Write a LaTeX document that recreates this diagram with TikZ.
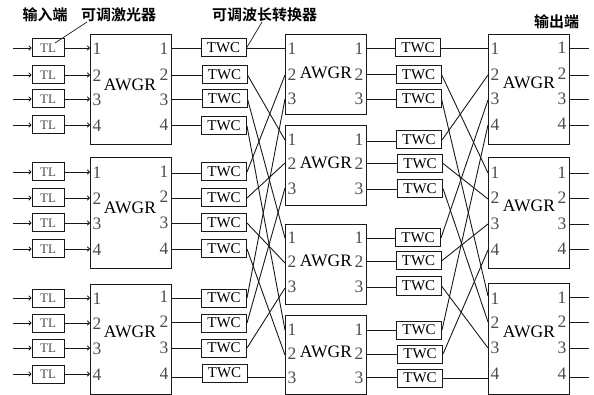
\documentclass[tikz,border=0pt]{standalone}
\usepackage{fontspec}
\setmainfont{Liberation Serif}
\newfontfamily\cjkbold{Noto Sans CJK SC Bold}
\usetikzlibrary{arrows.meta}
\definecolor{ink}{gray}{0.1}
\definecolor{digit}{gray}{0.3}
\tikzset{
  x=1pt,y=-1pt,
  wire/.style={draw=ink,line width=0.9pt},
  arr/.style={wire,-{To[length=3pt,width=5pt]}},
  leader/.style={draw=ink,line width=0.7pt},
  awgrbox/.style={draw=ink,line width=1pt,minimum width=81pt,inner sep=0pt},
  tlbox/.style={draw=ink,line width=1pt,minimum width=32pt,minimum height=18pt,inner sep=0pt,text=digit,font=\fontsize{13}{13}\selectfont},
  twcbox/.style={draw=ink,line width=1pt,minimum width=45pt,minimum height=18pt,inner sep=0pt,text=black,font=\fontsize{15}{15}\selectfont},
  awgrtext/.style={inner sep=0pt,font=\fontsize{17.5}{17.5}\selectfont,text=black},
  portnum/.style={inner sep=0pt,font=\fontsize{17.5}{17.5}\selectfont,text=digit},
  captext/.style={inner sep=0pt,font=\cjkbold\fontsize{15}{15}\selectfont},
}
\begin{document}
\begin{tikzpicture}
\useasboundingbox (0,0) rectangle (594,395);
% AWGR boxes
\node[awgrbox,minimum height=110pt] (A1) at (130.5,90) {};
\node[awgrbox,minimum height=111pt] (A2) at (130.5,213.5) {};
\node[awgrbox,minimum height=110pt] (A3) at (130.5,339) {};
\node[awgrbox,minimum height=80pt] (M1) at (325.5,75) {};
\node[awgrbox,minimum height=80pt] (M2) at (325.5,165.5) {};
\node[awgrbox,minimum height=79pt] (M3) at (325.5,264.5) {};
\node[awgrbox,minimum height=79pt] (M4) at (325.5,354.5) {};
\node[awgrbox,minimum height=110pt] (R1) at (529,90) {};
\node[awgrbox,minimum height=111pt] (R2) at (529,213.5) {};
\node[awgrbox,minimum height=111pt] (R3) at (529,338.5) {};
% AWGR captions
\foreach \n/\x/\y in {a/130/85,b/130/208,c/130/332,d/326/73,e/326/163,f/326/261,g/326/352,h/529/83,i/529/206,j/529/332}
  \node[awgrtext] (w\n) at (\x,\y) {AWGR};
% left column: TL, inputs, first AWGR ports
\foreach \n/\y/\d/\oy in {1/48/1/48,2/75/2/75,3/99/3/99,4/125/4/125,5/172/1/173,6/198/2/198,7/223/3/223,8/249/4/249,9/298/1/298,10/323/2/322,11/348/3/348,12/374/4/377}{
  \node[tlbox] (tl\n) at (48,\y) {TL};
  \coordinate (in\n) at (13,\y);
  \coordinate (ai\n) at (90,\y);
  \coordinate (ao\n) at (171,\oy);
  \node[portnum] (an\n) at (97,\y+1) {\d};
  \draw[arr] (in\n) -- (tl\n.west);
  \draw[arr] (tl\n.east) -- (ai\n);
}
\foreach \n/\y/\d in {1/49/1,2/75/2,3/100/3,4/125/4,5/172/1,6/197/2,7/223/3,8/249/4,9/297/1,10/322/2,11/348/3,12/374/4}
  \node[portnum] (bn\n) at (164,\y) {\d};
% first TWC column
\foreach \n/\x/\y in {1/223.5/48,2/224.5/75,3/224.5/99,4/224/126,5/224/172,6/224/198,7/224/223,8/224/249,9/224/298,10/224/323,11/224/348,12/224.5/373}{
  \node[twcbox] (tw\n) at (\x,\y) {TWC};
  \draw[wire] (ao\n) -- (ao\n-|tw\n.west);
}
% middle ports
\foreach \n/\iy/\oy/\d in {1/48/48/1,2/75/74/2,3/99/99/3,4/140/141/1,5/163/163/2,6/188/189/3,7/238/238/1,8/263/261/2,9/288/287/3,10/330/330/1,11/355/354/2,12/377/377/3}{
  \coordinate (mi\n) at (285,\iy);
  \coordinate (mo\n) at (366,\oy);
}
\foreach \n/\y/\d in {1/49/1,2/75/2,3/99/3,4/140/1,5/164/2,6/189/3,7/238/1,8/262/2,9/287/3,10/330/1,11/354/2,12/378/3}{
  \node[portnum] (ml\n) at (292,\y) {\d};
  \node[portnum] (mr\n) at (359,\y) {\d};
}
% first crossing stage
\foreach \a/\b in {1/1,2/4,3/7,4/10,5/2,6/5,7/8,8/11,9/3,10/6,11/9}
  \draw[wire] (tw\a.east) -- (mi\b);
\draw[wire] (tw12.east|-mi12) -- (mi12);
% second TWC column
\foreach \n/\x/\y in {1/418/48,2/418.5/74.5,3/418.5/99,4/419/140,5/420/163.5,6/420/188.5,7/418/238,8/418.5/261,9/418.5/286,10/419/330,11/420/354,12/420/378}{
  \node[twcbox] (tx\n) at (\x,\y) {TWC};
  \draw[wire] (mo\n) -- (mo\n-|tx\n.west);
}
% right ports
\foreach \n/\iy/\oy/\d in {1/48/48/1,2/75/75/2,3/100/99/3,4/125/125/4,5/173/173/1,6/199/198/2,7/224/224/3,8/250/249/4,9/296/297/1,10/322/322/2,11/348/348/3,12/378/377/4}{
  \coordinate (ri\n) at (488,\iy);
  \coordinate (ro\n) at (570,\oy);
  \coordinate (ou\n) at (589,\oy);
  \draw[wire] (ro\n) -- (ou\n);
}
\foreach \n/\y/\d in {1/49/1,2/75/2,3/99/3,4/125/4,5/173/1,6/198/2,7/224/3,8/250/4,9/299/1,10/323/2,11/348/3,12/374/4}{
  \node[portnum] (rl\n) at (495,\y) {\d};
}
\foreach \n/\y/\d in {1/48/1,2/74/2,3/99/3,4/124/4,5/173/1,6/198/2,7/224/3,8/249/4,9/298/1,10/322/2,11/348/3,12/374/4}{
  \node[portnum] (rr\n) at (562,\y) {\d};
}
% second crossing stage
\foreach \a/\b in {1/1,2/5,3/9,4/2,5/6,6/10,7/3,8/7,9/11,10/4,11/8,12/12}
  \draw[wire] (tx\a.east) -- (ri\b);
% captions and leaders
\node[captext] (c1) at (45,15) {输入端};
\node[captext] (c2) at (118.5,15) {可调激光器};
\node[captext] (c3) at (264.5,15) {可调波长转换器};
\node[captext] (c4) at (556.5,22) {输出端};
\coordinate (lead1) at (87,22);
\coordinate (lead1b) at (55,43);
\coordinate (lead2) at (262,22);
\draw[leader] (lead1) -- (lead1b);
\draw[leader] (lead2) -- (tw1.east);
\end{tikzpicture}
\end{document}
